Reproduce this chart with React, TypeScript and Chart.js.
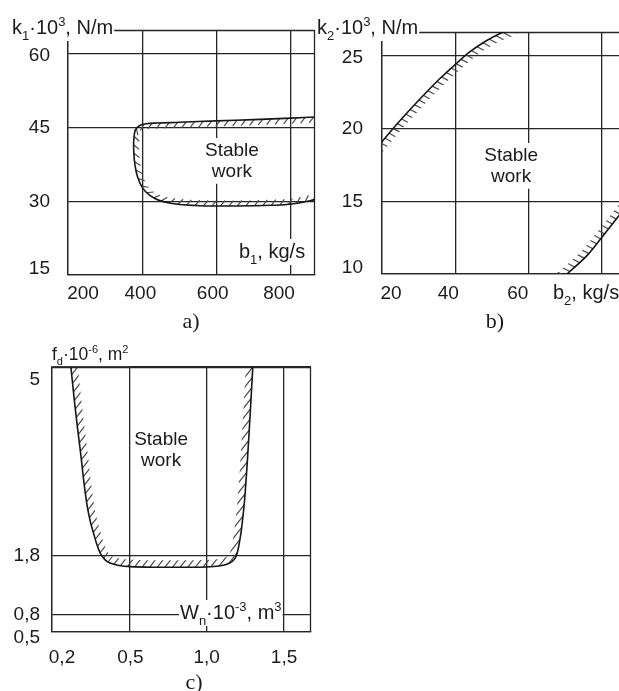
import React, { useEffect, useRef } from 'react';
import { Chart, registerables } from 'chart.js';

Chart.register(...registerables);

/* ---------------- panel a): k1 vs b1 ---------------- */
const aB1 = [872, 800, 700, 600, 500, 440, 410, 392, 381, 377, 377, 380, 387, 400, 420, 445, 485, 557, 650, 750, 802, 872];
const aK1 = [47.2, 46.95, 46.65, 46.4, 46.1, 45.95, 45.8, 45.4, 44.5, 42.5, 40.0, 37.5, 35.0, 32.8, 31.2, 30.2, 29.5, 29.1, 29.05, 29.2, 29.45, 30.45];
const aXTicks = [200, 400, 600, 800];
const aYTicks = [15, 30, 45, 60];
const aXRange = [200, 864.5];
const aYRange = [15, 64.9];

/* ---------------- panel b): k2 vs b2 ---------------- */
const bUpperB2 = [18.1, 20.0, 23.5, 27.6, 31.7, 35.8, 39.9, 44.0, 48.1, 52.2, 56.3];
const bUpperK2 = [18.5, 19.1, 20.15, 21.3, 22.4, 23.45, 24.4, 25.3, 26.0, 26.55, 26.95];
const bLowerB2 = [68.5, 70.4, 75.8, 80.0, 84.4, 86.3];
const bLowerK2 = [9.6, 10.0, 11.25, 12.55, 13.95, 14.6];
const bXTicks = [20, 40, 60, 80];
const bYTicks = [10, 15, 20, 25];
const bXRange = [20, 84.6];
const bYRange = [10, 26.65];

/* ---------------- panel c): fd vs Wn ---------------- */
const cWn = [0.271, 0.285, 0.298, 0.312, 0.325, 0.338, 0.35, 0.361, 0.373, 0.387, 0.405, 0.425, 0.46, 0.505, 0.65, 0.85, 1.0, 1.08, 1.13, 1.165, 1.185, 1.198, 1.21, 1.225, 1.245, 1.265, 1.283, 1.3];
const cFd = [5.1, 4.5, 4.0, 3.5, 3.0, 2.6, 2.35, 2.18, 2.0, 1.84, 1.73, 1.67, 1.63, 1.61, 1.6, 1.6, 1.605, 1.62, 1.65, 1.7, 1.76, 1.85, 2.0, 2.25, 2.75, 3.5, 4.3, 5.1];
const cXTicks = [0.2, 0.5, 1.0, 1.5];
const cYTicks = [0.5, 0.8, 1.8, 5];
const cXRange = [0.2, 1.674];
const cYRange = [0.5, 5];
// the original x axis is schematic: 0.2..0.5 occupies the same length as 0..0.5
const cBreak = 0.5;
const cToAxis = (v: number) => (v < cBreak ? ((v - cXRange[0]) / (cBreak - cXRange[0])) * cBreak : v);

const regionText = ['Stable', 'work'];

/* ---------------- style ---------------- */
const SANS = "'Liberation Sans', Arial, Helvetica, sans-serif";
const SERIF = "'Liberation Serif', 'Times New Roman', serif";
const INK = '#1b1b1b';
const GRID = '#262626';
const CURVE = '#161616';
const HATCH = '#4a4a4a';

type Seg = { t: string; s?: 'sub' | 'sup' };
const fmtComma = (v: number) => (Number.isInteger(v) && v >= 2 ? String(v) : v.toFixed(1).replace('.', ','));

function segFont(seg: Seg, size: number) {
  const sz = seg.s ? Math.round(size * 0.64) : size;
  return `${sz}px ${SANS}`;
}

function drawRich(ctx: CanvasRenderingContext2D, segs: Seg[], x: number, y: number, size: number, align: 'left' | 'center', bg = true) {
  let w = 0;
  for (const s of segs) {
    ctx.font = segFont(s, size);
    w += ctx.measureText(s.t).width;
  }
  let cx = align === 'center' ? x - w / 2 : x;
  if (bg) {
    ctx.fillStyle = '#ffffff';
    ctx.fillRect(cx - 1, y - size * 0.95, w + 2, size * 1.3);
  }
  ctx.fillStyle = INK;
  ctx.textAlign = 'left';
  ctx.textBaseline = 'alphabetic';
  for (const s of segs) {
    ctx.font = segFont(s, size);
    const dy = s.s === 'sub' ? size * 0.28 : s.s === 'sup' ? -size * 0.42 : 0;
    ctx.fillText(s.t, cx, y + dy);
    cx += ctx.measureText(s.t).width;
  }
}

/* ---------------- plugins ---------------- */
// mode 'fixed': parallel hatch lines clipped to a band along the curve
// mode 'relative': short ticks at a constant angle to the curve
type HatchSpec = { mode: 'fixed' | 'relative'; side: 1 | -1; angle: number; spacing: number; width: number };

function sampleCurve(pts: any[]) {
  const out: { x: number; y: number }[] = [];
  for (let j = 0; j < pts.length - 1; j++) {
    const a = pts[j];
    const b = pts[j + 1];
    const c1x = Number.isFinite(a.cp2x) ? a.cp2x : a.x;
    const c1y = Number.isFinite(a.cp2y) ? a.cp2y : a.y;
    const c2x = Number.isFinite(b.cp1x) ? b.cp1x : b.x;
    const c2y = Number.isFinite(b.cp1y) ? b.cp1y : b.y;
    for (let k = 0; k < 16; k++) {
      const t = k / 16;
      const u = 1 - t;
      out.push({
        x: u * u * u * a.x + 3 * u * u * t * c1x + 3 * u * t * t * c2x + t * t * t * b.x,
        y: u * u * u * a.y + 3 * u * u * t * c1y + 3 * u * t * t * c2y + t * t * t * b.y,
      });
    }
  }
  const last = pts[pts.length - 1];
  out.push({ x: last.x, y: last.y });
  return out;
}

function tangentAt(poly: { x: number; y: number }[], idx: number) {
  const q0 = poly[Math.max(0, idx - 1)];
  const q1 = poly[Math.min(poly.length - 1, idx + 1)];
  const tx = q1.x - q0.x;
  const ty = q1.y - q0.y;
  const L = Math.hypot(tx, ty) || 1;
  return { tx: tx / L, ty: ty / L };
}

const hatchPlugin = {
  id: 'hatchBand',
  beforeDatasetsDraw(chart: any) {
    const ctx: CanvasRenderingContext2D = chart.ctx;
    const area = chart.chartArea;
    chart.data.datasets.forEach((ds: any, i: number) => {
      const h: HatchSpec | undefined = ds.hatch;
      if (!h) return;
      const meta = chart.getDatasetMeta(i);
      if (meta.dataset && meta.dataset.updateControlPoints) meta.dataset.updateControlPoints(area, meta.iScale.axis);
      const pts = meta.data;
      if (!pts || pts.length < 2) return;
      const poly = sampleCurve(pts);
      ctx.save();
      ctx.beginPath();
      ctx.rect(area.left, area.top, area.right - area.left, area.bottom - area.top);
      ctx.clip();
      ctx.strokeStyle = HATCH;
      ctx.lineWidth = 1.2;
      ctx.lineCap = 'butt';
      ctx.beginPath();
      if (h.mode === 'relative') {
        const th = (h.angle * Math.PI) / 180;
        const len = h.width / Math.sin(th);
        let acc = h.spacing / 2;
        for (let k = 1; k < poly.length; k++) {
          const p0 = poly[k - 1];
          const p1 = poly[k];
          const seg = Math.hypot(p1.x - p0.x, p1.y - p0.y);
          let pos = acc;
          while (pos <= seg) {
            const f = seg ? pos / seg : 0;
            const px = p0.x + (p1.x - p0.x) * f;
            const py = p0.y + (p1.y - p0.y) * f;
            const { tx, ty } = tangentAt(poly, k);
            const nx = h.side * -ty;
            const ny = h.side * tx;
            const dx = Math.cos(th) * tx + Math.sin(th) * nx;
            const dy = Math.cos(th) * ty + Math.sin(th) * ny;
            ctx.moveTo(px, py);
            ctx.lineTo(px + dx * len, py + dy * len);
            pos += h.spacing;
          }
          acc = pos - seg;
        }
        ctx.stroke();
      } else {
        const off = poly.map((p, idx) => {
          const { tx, ty } = tangentAt(poly, idx);
          return { x: p.x + h.side * -ty * h.width, y: p.y + h.side * tx * h.width };
        });
        ctx.save();
        ctx.beginPath();
        ctx.moveTo(poly[0].x, poly[0].y);
        for (const p of poly) ctx.lineTo(p.x, p.y);
        for (let k = off.length - 1; k >= 0; k--) ctx.lineTo(off[k].x, off[k].y);
        ctx.closePath();
        ctx.clip();
        const ang = (h.angle * Math.PI) / 180;
        const dx = Math.cos(ang);
        const dy = -Math.sin(ang);
        const mx = -dy;
        const my = dx;
        let cmin = Infinity, cmax = -Infinity, emin = Infinity, emax = -Infinity;
        for (const p of poly.concat(off)) {
          const c = p.x * mx + p.y * my;
          const e = p.x * dx + p.y * dy;
          cmin = Math.min(cmin, c);
          cmax = Math.max(cmax, c);
          emin = Math.min(emin, e);
          emax = Math.max(emax, e);
        }
        ctx.beginPath();
        for (let c = Math.floor(cmin / h.spacing) * h.spacing; c <= cmax; c += h.spacing) {
          ctx.moveTo(mx * c + dx * (emin - 2), my * c + dy * (emin - 2));
          ctx.lineTo(mx * c + dx * (emax + 2), my * c + dy * (emax + 2));
        }
        ctx.stroke();
        ctx.restore();
      }
      ctx.restore();
    });
  },
};

type Title = { segs: Seg[]; x: number; y: number; size: number };
type Decor = {
  frame: { top: boolean; right: boolean };
  titles: Title[];
  note: { x: number; y: number; lines: string[] };
  shifts: Record<string, number[][]>;
};

function makeDecor(d: Decor) {
  return {
    id: 'decor',
    beforeDraw(chart: any) {
      for (const id of Object.keys(d.shifts)) {
        const scale = chart.scales[id];
        if (!scale) continue;
        const items = scale.getLabelItems(chart.chartArea);
        if (!items || items._shifted) continue;
        items.forEach((it: any, i: number) => {
          const s = d.shifts[id][i];
          if (!s) return;
          const tr = it.options.translation;
          it.options.translation = [tr[0] + s[0], tr[1] + s[1]];
        });
        items._shifted = true;
      }
    },
    beforeDatasetsDraw(chart: any) {
      const ctx: CanvasRenderingContext2D = chart.ctx;
      const a = chart.chartArea;
      ctx.save();
      ctx.strokeStyle = GRID;
      ctx.lineWidth = 1.3;
      ctx.beginPath();
      if (d.frame.top) {
        ctx.moveTo(a.left, Math.round(a.top) + 0.5);
        ctx.lineTo(a.right, Math.round(a.top) + 0.5);
      }
      if (d.frame.right) {
        ctx.moveTo(Math.round(a.right) - 0.5, a.top);
        ctx.lineTo(Math.round(a.right) - 0.5, a.bottom);
      }
      ctx.stroke();
      ctx.restore();
    },
    afterDraw(chart: any) {
      const ctx: CanvasRenderingContext2D = chart.ctx;
      ctx.save();
      const xs = chart.scales.x;
      const ys = chart.scales.y;
      const px = xs.getPixelForValue(d.note.x);
      const py = ys.getPixelForValue(d.note.y);
      const lh = 21;
      d.note.lines.forEach((ln, i) => {
        const yy = py + (i - (d.note.lines.length - 1) / 2) * lh + 7;
        drawRich(ctx, [{ t: ln }], px, yy, 19, 'center');
      });
      for (const t of d.titles) drawRich(ctx, t.segs, t.x, t.y, t.size, 'left');
      ctx.restore();
    },
  };
}

function axis(o: { min: number; max: number; ticks: number[]; labels: string[]; size: number; horizontal: boolean; padding: number }) {
  return {
    type: 'linear',
    min: o.min,
    max: o.max,
    bounds: 'data',
    afterBuildTicks: (s: any) => {
      s.ticks = o.ticks.map((v) => ({ value: v }));
    },
    afterFit: (s: any) => {
      if (o.horizontal) s.height = o.size;
      else s.width = o.size;
    },
    grid: { color: GRID, lineWidth: 1.3, drawTicks: false },
    border: { display: true, color: GRID, width: 1.3 },
    ticks: {
      color: INK,
      font: { family: SANS, size: 19 },
      padding: o.padding,
      maxRotation: 0,
      autoSkip: false,
      callback: (_v: any, i: number) => o.labels[i] ?? '',
    },
  };
}

function curve(xs: number[], ys: number[], hatch: HatchSpec, mapX: (v: number) => number = (v) => v) {
  return {
    data: xs.map((x, i) => ({ x: mapX(x), y: ys[i] })),
    showLine: true,
    borderColor: CURVE,
    borderWidth: 1.6,
    pointRadius: 0,
    pointHoverRadius: 0,
    tension: 0.35,
    fill: false,
    hatch,
  };
}

function baseOptions(padding: any, scales: any) {
  return {
    responsive: false,
    animation: false,
    events: [],
    devicePixelRatio: 1,
    layout: { padding },
    elements: { line: { capBezierPoints: false } },
    plugins: { legend: { display: false }, title: { display: false }, tooltip: { enabled: false } },
    scales,
  };
}

function configA() {
  return {
    type: 'scatter',
    data: { datasets: [curve(aB1, aK1, { mode: 'relative', side: -1, angle: 50, spacing: 8.5, width: 5.5 })] },
    options: baseOptions({ left: 0, top: 30, right: 3, bottom: 0 }, {
      x: axis({ min: aXRange[0], max: aXRange[1], ticks: aXTicks, labels: aXTicks.map(String), size: 30, horizontal: true, padding: 7 }),
      y: axis({ min: aYRange[0], max: aYRange[1], ticks: aYTicks, labels: aYTicks.map(String), size: 68, horizontal: false, padding: 18 }),
    }),
    plugins: [
      hatchPlugin,
      makeDecor({
        frame: { top: true, right: true },
        titles: [
          { segs: [{ t: 'k' }, { t: '1', s: 'sub' }, { t: '·10' }, { t: '3', s: 'sup' }, { t: ', N/m' }], x: 12, y: 34, size: 20 },
          { segs: [{ t: 'b' }, { t: '1', s: 'sub' }, { t: ', kg/s' }], x: 239, y: 258, size: 20 },
        ],
        note: { x: 641, y: 38.5, lines: regionText },
        shifts: { x: [[15, 0], [-2, 0], [-4, 0], [-12, 0]], y: [[0, -6], [0, 0], [0, 0], [0, 2]] },
      }),
    ],
  };
}

function configB() {
  return {
    type: 'scatter',
    data: {
      datasets: [
        curve(bUpperB2, bUpperK2, { mode: 'fixed', side: 1, angle: -28, spacing: 6.2, width: 7 }),
        curve(bLowerB2, bLowerK2, { mode: 'fixed', side: -1, angle: -28, spacing: 6.2, width: 7 }),
      ],
    },
    options: baseOptions({ left: 0, top: 32, right: 0, bottom: 0 }, {
      x: axis({ min: bXRange[0], max: bXRange[1], ticks: bXTicks, labels: bXTicks.map((v, i) => (i === bXTicks.length - 1 ? '' : String(v))), size: 31, horizontal: true, padding: 8 }),
      y: axis({ min: bYRange[0], max: bYRange[1], ticks: bYTicks, labels: bYTicks.map(String), size: 72, horizontal: false, padding: 19 }),
    }),
    plugins: [
      hatchPlugin,
      makeDecor({
        frame: { top: true, right: false },
        titles: [
          { segs: [{ t: 'k' }, { t: '2', s: 'sub' }, { t: '·10' }, { t: '3', s: 'sup' }, { t: ', N/m' }], x: 7, y: 34, size: 20 },
          { segs: [{ t: 'b' }, { t: '2', s: 'sub' }, { t: ', kg/s' }], x: 243, y: 299, size: 20 },
        ],
        note: { x: 55.2, y: 17.53, lines: regionText },
        shifts: { x: [[9, 0], [-7, 0], [-11, 0], [0, 0]], y: [[0, -6], [0, 0], [0, 0], [0, 2]] },
      }),
    ],
  };
}

function configC() {
  return {
    type: 'scatter',
    data: { datasets: [curve(cWn, cFd, { mode: 'fixed', side: -1, angle: 52, spacing: 6, width: 7 }, cToAxis)] },
    options: baseOptions({ left: 0, top: 37, right: 9, bottom: 0 }, {
      x: axis({ min: cToAxis(cXRange[0]), max: cXRange[1], ticks: cXTicks.map(cToAxis), labels: cXTicks.map(fmtComma), size: 38, horizontal: true, padding: 14 }),
      y: axis({ min: cYRange[0], max: cYRange[1], ticks: cYTicks, labels: cYTicks.map(fmtComma), size: 52, horizontal: false, padding: 12 }),
    }),
    plugins: [
      hatchPlugin,
      makeDecor({
        frame: { top: true, right: true },
        titles: [
          { segs: [{ t: 'f' }, { t: 'd', s: 'sub' }, { t: '·10' }, { t: '-6', s: 'sup' }, { t: ', m' }, { t: '2', s: 'sup' }], x: 52, y: 30, size: 17.5 },
          { segs: [{ t: 'W' }, { t: 'n', s: 'sub' }, { t: '·10' }, { t: '-3', s: 'sup' }, { t: ', m' }, { t: '3', s: 'sup' }], x: 180, y: 289, size: 20 },
        ],
        note: { x: 0.705, y: 3.615, lines: regionText },
        shifts: { x: [[10, 0], [1, 0], [0, 0], [0, 0]], y: [[0, 6], [0, 0], [0, 0], [0, 13]] },
      }),
    ],
  };
}

function Panel({ left, top, width, height, make }: { left: number; top: number; width: number; height: number; make: () => any }) {
  const ref = useRef<HTMLCanvasElement | null>(null);
  useEffect(() => {
    if (!ref.current) return;
    const chart = new Chart(ref.current, make());
    return () => chart.destroy();
  }, []);
  return <canvas ref={ref} width={width} height={height} style={{ position: 'absolute', left, top, width, height }} />;
}

function Caption({ text, cx, cy }: { text: string; cx: number; cy: number }) {
  return (
    <div
      style={{
        position: 'absolute',
        left: cx - 30,
        top: cy - 13,
        width: 60,
        height: 26,
        lineHeight: '26px',
        textAlign: 'center',
        fontFamily: SERIF,
        fontSize: 22,
        color: INK,
      }}
    >
      {text}
    </div>
  );
}

export default function App() {
  return (
    <div style={{ position: 'fixed', left: 0, top: 0, width: 619, height: 691, background: '#ffffff', overflow: 'hidden' }}>
      <Panel left={0} top={0} width={318} height={305} make={configA} />
      <Panel left={310} top={0} width={309} height={305} make={configB} />
      <Panel left={0} top={330} width={320} height={340} make={configC} />
      <Caption text="a)" cx={191} cy={321} />
      <Caption text="b)" cx={495} cy={321} />
      <Caption text="c)" cx={194} cy={682} />
    </div>
  );
}
